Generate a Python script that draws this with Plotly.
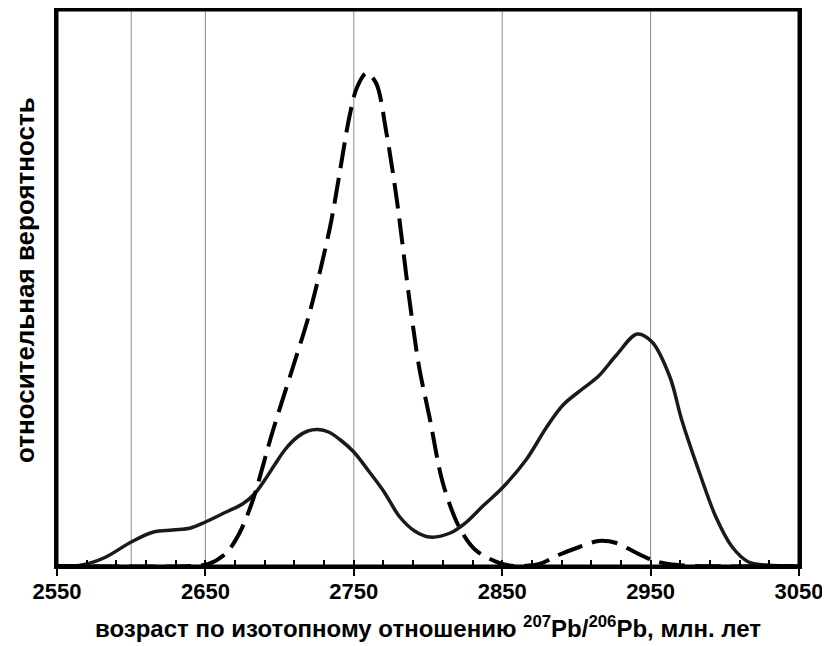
import plotly.graph_objects as go

# Solid curve (sample set 1)
age_solid = [2550, 2565, 2572, 2583, 2600, 2615, 2628, 2640, 2650, 2664, 2675, 2683, 2690, 2697, 2704, 2712, 2719, 2726,
             2733, 2741, 2750, 2760, 2770, 2781, 2791, 2801, 2815, 2826, 2837, 2850, 2866, 2880, 2891, 2904, 2915, 2927, 2941,
             2951, 2963, 2971, 2983, 2994, 3005, 3016, 3028, 3050]
prob_solid = [0, 0.5, 2.7, 9, 24, 34, 36, 38, 44, 54, 62, 72, 86, 102, 117, 129, 135, 136.5,
              134, 126, 114, 95, 75, 49, 35, 29, 33, 44, 60, 78, 106, 139, 161, 177, 190, 211, 232,
              224, 189, 146, 93, 49, 19, 4, 1, 0]

# Dashed curve (sample set 2)
age_dash = [2550, 2640, 2652, 2664, 2673, 2682, 2695, 2709, 2720, 2734, 2740, 2747, 2752, 2758.6,
            2765, 2772, 2779, 2787.5, 2794, 2801, 2810, 2821, 2832, 2848, 2858, 2875, 2888, 2902,
            2915, 2927, 2938, 2951, 2962, 2980, 3050]
prob_dash = [0, 0, 2, 13, 33, 66, 133, 199, 252, 339, 389, 449, 478, 493,
             483, 433, 366, 266, 199, 149, 83, 39, 16, 3, 0, 2, 11, 19,
             25, 23, 15, 6, 2, 0, 0]

grid_x = [2600, 2650, 2750, 2850, 2950]
x_range = [2550, 3050]
y_range = [0, 556]

x_title = "<b>возраст по изотопному отношению <sup>207</sup>Pb/<sup>206</sup>Pb, млн. лет</b>"
y_title = "<b>относительная вероятность</b>"

font_fam = "Liberation Sans, Arial, sans-serif"

fig = go.Figure()
fig.add_trace(go.Scatter(x=age_solid, y=prob_solid, mode="lines",
                         line=dict(color="#1a1a1a", width=3.5, shape="spline", smoothing=1.0),
                         showlegend=False, hoverinfo="skip"))
fig.add_trace(go.Scatter(x=age_dash, y=prob_dash, mode="lines",
                         line=dict(color="#000000", width=4, shape="spline", smoothing=0.9, dash="26px,10px"),
                         showlegend=False, hoverinfo="skip"))

for gx in grid_x:
    fig.add_shape(type="line", x0=gx, x1=gx, y0=0, y1=1, xref="x", yref="y domain",
                  line=dict(color="#8a8a8a", width=1), layer="below")

# plot frame
fig.add_shape(type="rect", x0=0, x1=1, y0=0, y1=1, xref="paper", yref="paper",
              line=dict(color="black", width=3), fillcolor="rgba(0,0,0,0)", layer="above")

fig.add_annotation(text=x_title, xref="paper", yref="paper", x=0.5, y=0,
                   xanchor="center", yanchor="bottom", yshift=-78, showarrow=False,
                   font=dict(size=24, family=font_fam, color="black"))
fig.add_annotation(text=y_title, xref="paper", yref="paper", x=0, y=0.5,
                   xanchor="center", yanchor="middle", xshift=-32, yshift=8, textangle=-90,
                   showarrow=False, font=dict(size=26, family=font_fam, color="black"))

fig.update_layout(
    width=822, height=638,
    margin=dict(l=49, r=31, t=2, b=80),
    paper_bgcolor="white", plot_bgcolor="white",
    font=dict(family=font_fam, color="black"),
    xaxis=dict(range=x_range, tickmode="linear", tick0=2550, dtick=100, automargin=False,
               ticks="outside", ticklen=7, tickwidth=2, tickcolor="black",
               ticklabelstandoff=-3,
               minor=dict(dtick=20, tick0=2550, ticks="inside", ticklen=6, tickwidth=1.5, tickcolor="black", showgrid=False),
               showgrid=False, zeroline=False,
               showline=True, linecolor="black", linewidth=3, mirror=True,
               tickfont=dict(size=22, family=font_fam, color="black"),
               tickprefix="<b>", ticksuffix="</b>"),
    yaxis=dict(range=y_range, showticklabels=False, ticks="", showgrid=False, zeroline=False, automargin=False,
               showline=True, linecolor="black", linewidth=3, mirror=True),
)

fig.write_html("out.html")
